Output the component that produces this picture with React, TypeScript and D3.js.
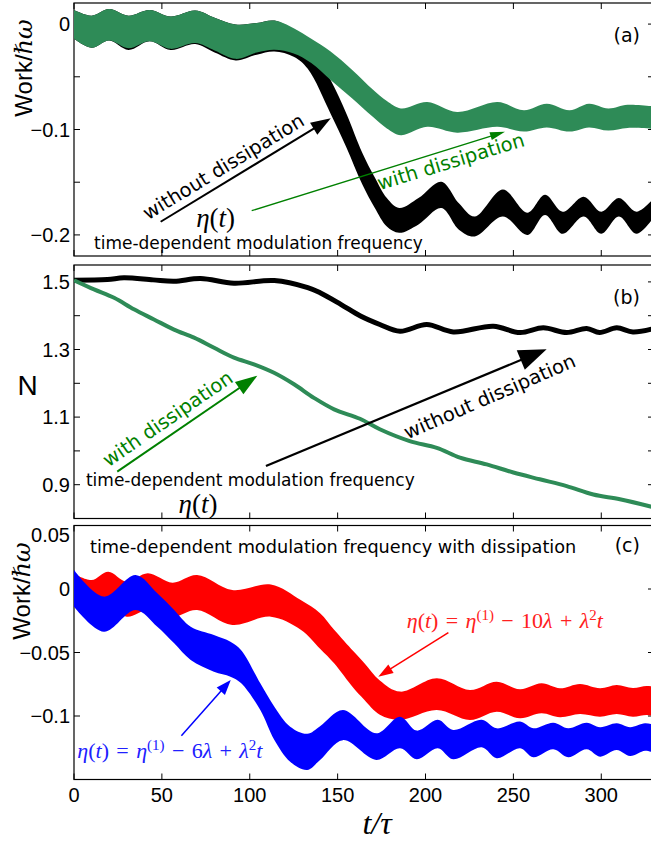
import React from "react";
import * as d3 from "d3";

// shared time axis (t / tau)
const tMax = 330;
const timeTicks = [0, 50, 100, 150, 200, 250, 300];

// (a) work without dissipation: black band, upper / lower envelope
const tWorkFree = [0, 10, 20, 31, 43, 55, 69, 80, 92, 104, 114, 125, 133, 146, 155, 164, 171, 178, 185, 196, 209, 219, 228, 244, 258, 268, 278, 290, 300, 310, 320, 330];
const workFreeHi = [0.0134, 0.008, 0.0143, 0.008, 0.0134, 0.0071, 0.0128, 0.006, -0.0005, 0.001, 0.0033, -0.006, -0.018, -0.053, -0.085, -0.122, -0.145, -0.165, -0.1745, -0.165, -0.1495, -0.17, -0.1826, -0.157, -0.179, -0.162, -0.178, -0.1637, -0.178, -0.165, -0.178, -0.165];
const workFreeLo = [-0.014, -0.0225, -0.0156, -0.0245, -0.0162, -0.0245, -0.019, -0.027, -0.0345, -0.029, -0.026, -0.031, -0.0424, -0.085, -0.117, -0.152, -0.174, -0.192, -0.198, -0.19, -0.1745, -0.195, -0.2015, -0.1826, -0.2, -0.181, -0.199, -0.1826, -0.199, -0.1826, -0.199, -0.183];

// (a) work with dissipation: green band
const tWorkDiss = [0, 10, 20, 31, 43, 55, 69, 80, 92, 104, 114, 125, 135, 146, 158, 170, 178, 186, 201, 218, 241, 256, 269, 282, 293, 304, 315, 330];
const workDissHi = [0.0134, 0.008, 0.0143, 0.008, 0.0134, 0.0071, 0.0128, 0.006, -0.0005, 0.001, 0.0033, -0.004, -0.014, -0.026, -0.043, -0.062, -0.073, -0.08, -0.074, -0.0834, -0.0739, -0.0818, -0.0755, -0.0818, -0.0755, -0.08, -0.0765, -0.078];
const workDissLo = [-0.014, -0.0225, -0.0156, -0.0229, -0.0162, -0.0235, -0.018, -0.025, -0.033, -0.027, -0.0244, -0.028, -0.037, -0.053, -0.07, -0.088, -0.099, -0.1054, -0.0975, -0.103, -0.0975, -0.102, -0.098, -0.102, -0.098, -0.101, -0.0985, -0.0995];

// (b) N without / with dissipation
const tNFree = [0, 19, 28.4, 45, 57, 72, 91, 114, 133, 140, 152, 163, 174, 185.5, 200.7, 215.8, 238.6, 253.8, 267, 280.3, 291.7, 299, 308.8, 318, 330];
const nFree = [1.505, 1.507, 1.512, 1.506, 1.502, 1.51, 1.496, 1.504, 1.483, 1.468, 1.433, 1.399, 1.374, 1.354, 1.374, 1.352, 1.369, 1.35, 1.364, 1.35, 1.362, 1.35, 1.364, 1.352, 1.362];
const tNDiss = [0, 11.4, 22.8, 34.1, 45.5, 56.9, 68.3, 79.7, 91, 102.4, 113.8, 125.2, 136.5, 148, 162.7, 174, 191, 206.4, 219.6, 234.8, 250, 265, 280.3, 295.5, 310.6, 330];
const nDiss = [1.505, 1.478, 1.453, 1.419, 1.389, 1.359, 1.335, 1.305, 1.276, 1.256, 1.231, 1.197, 1.157, 1.123, 1.095, 1.064, 1.029, 1.009, 0.98, 0.96, 0.936, 0.916, 0.896, 0.871, 0.857, 0.833];

// (c) work with dissipation, eta(t) = eta1 - 10 lambda + lambda^2 t (red band)
const tEta10 = [0, 10, 19.5, 30, 42, 56, 70, 90, 112, 129, 140, 148, 159, 165, 174, 185.5, 206.4, 225.3, 240.5, 253.8, 266, 276.5, 287.9, 299.3, 308.8, 318, 325.8, 330];
const eta10Hi = [0.012, 0.007, 0.0136, 0.0057, 0.0124, 0.005, 0.011, -0.0008, 0.0035, -0.0087, -0.019, -0.032, -0.049, -0.058, -0.072, -0.0808, -0.0703, -0.0795, -0.073, -0.079, -0.0743, -0.0782, -0.0748, -0.0782, -0.0756, -0.078, -0.0764, -0.077];
const eta10Lo = [-0.014, -0.02, -0.013, -0.0218, -0.0165, -0.022, -0.0165, -0.0283, -0.0218, -0.032, -0.047, -0.0585, -0.078, -0.087, -0.099, -0.1031, -0.0953, -0.1031, -0.0966, -0.1018, -0.0979, -0.101, -0.0984, -0.1005, -0.0984, -0.1005, -0.0992, -0.1];

// (c) eta(t) = eta1 - 6 lambda + lambda^2 t (blue band)
const tEta6 = [0, 17, 35, 47.4, 57, 66.4, 79.6, 89, 95, 106, 114, 123, 132.7, 140, 153, 172, 185.5, 195, 207, 215.7, 232, 240.5, 253.8, 261.3, 272.7, 281.2, 291.7, 299.3, 308.8, 316.4, 324.9, 330];
const eta6Hi = [0.015, -0.006, 0.011, -0.0034, -0.0165, -0.0297, -0.0362, -0.0415, -0.048, -0.0743, -0.0927, -0.1084, -0.114, -0.108, -0.0953, -0.1136, -0.1005, -0.1115, -0.103, -0.111, -0.103, -0.1097, -0.1044, -0.1097, -0.1053, -0.1097, -0.1053, -0.1089, -0.1058, -0.1089, -0.1058, -0.107];
const eta6Lo = [-0.0139, -0.0336, -0.0165, -0.0297, -0.0428, -0.0559, -0.0651, -0.069, -0.074, -0.0953, -0.1189, -0.136, -0.1425, -0.1346, -0.119, -0.1346, -0.1254, -0.134, -0.1254, -0.1341, -0.1247, -0.1333, -0.1254, -0.1325, -0.1262, -0.1325, -0.1262, -0.132, -0.1268, -0.1315, -0.1273, -0.129];

// y ticks
const workTicksA = [0, -0.05, -0.1, -0.15, -0.2];
const workLabelsA = [0, -0.1, -0.2];
const nTicks = [1.5, 1.4, 1.3, 1.2, 1.1, 1.0, 0.9];
const nLabels = [1.5, 1.3, 1.1, 0.9];
const workTicksC = [0.05, 0, -0.05, -0.1];

const W = 651;
const H = 843;
const LEFT = 74;
const RIGHT = 654;
const TICK = 6;
const GREEN = "#2e8b57";

const x = d3.scaleLinear().domain([0, tMax]).range([LEFT, RIGHT]);
const yA = d3.scaleLinear().domain([-0.22, 0.02]).range([256, 3]);
const yB = d3.scaleLinear().domain([0.8, 1.55]).range([518.5, 265]);
const yC = d3.scaleLinear().domain([-0.15, 0.05]).range([779.5, 525.5]);

const fmt = (v: number) => (v === 0 ? "0" : String(v).replace("-", "\u2212"));
const smooth = d3.curveCatmullRom.alpha(0.5);

const band = (t: number[], hi: number[], lo: number[], y: any) =>
  d3
    .area<number>()
    .x((i) => x(t[i]))
    .y0((i) => y(lo[i]))
    .y1((i) => y(hi[i]))
    .curve(smooth)(d3.range(t.length));

const path = (t: number[], v: number[], y: any) =>
  d3
    .line<number>()
    .x((i) => x(t[i]))
    .y((i) => y(v[i]))
    .curve(smooth)(d3.range(t.length));

const sans = "'Liberation Sans', Arial, sans-serif";
const dejavu = "'DejaVu Sans', sans-serif";
const serif = "'Liberation Serif', 'DejaVu Serif', serif";
const SP = "\u2004"; // math spacing around operators

function Axes({ y, ticks, labels, id }: any) {
  const [bottom, top] = y.range();
  return (
    <g>
      <defs>
        <clipPath id={id}>
          <rect x={LEFT} y={top} width={RIGHT - LEFT} height={bottom - top} />
        </clipPath>
      </defs>
      <rect x={LEFT} y={top} width={RIGHT - LEFT} height={bottom - top} fill="none" stroke="#000" strokeWidth={1.2} />
      {ticks.map((v: number) => (
        <g key={v} stroke="#000" strokeWidth={1}>
          <line x1={LEFT} x2={LEFT + TICK} y1={y(v)} y2={y(v)} />
          <line x1={RIGHT} x2={RIGHT - TICK} y1={y(v)} y2={y(v)} />
        </g>
      ))}
      {timeTicks.map((t) => (
        <g key={t} stroke="#000" strokeWidth={1}>
          <line x1={x(t)} x2={x(t)} y1={top} y2={top + TICK} />
          <line x1={x(t)} x2={x(t)} y1={bottom} y2={bottom - TICK} />
        </g>
      ))}
      {labels.map((v: number) => (
        <text
          key={v}
          x={LEFT - 4}
          y={Math.max(y(v), top + 9)}
          dy="0.36em"
          textAnchor="end"
          fontFamily={sans}
          fontSize={20}
        >
          {fmt(v)}
        </text>
      ))}
    </g>
  );
}

function Arrow({ y, from, to, color, width, head, headW }: any) {
  const x1 = x(from[0]);
  const y1 = y(from[1]);
  const x2 = x(to[0]);
  const y2 = y(to[1]);
  const L = Math.hypot(x2 - x1, y2 - y1);
  const ux = (x2 - x1) / L;
  const uy = (y2 - y1) / L;
  const bx = x2 - ux * head;
  const by = y2 - uy * head;
  const nx = -uy * (headW / 2);
  const ny = ux * (headW / 2);
  return (
    <g>
      <line x1={x1} y1={y1} x2={bx + ux * 2} y2={by + uy * 2} stroke={color} strokeWidth={width} />
      <polygon points={`${x2},${y2} ${bx + nx},${by + ny} ${bx - nx},${by - ny}`} fill={color} />
    </g>
  );
}

function Label({ y, at, angle = 0, anchor = "start", color = "#000", size = 19.5, family = dejavu, children }: any) {
  return (
    <text
      transform={`translate(${x(at[0])},${y(at[1])}) rotate(${angle})`}
      textAnchor={anchor}
      fill={color}
      fontFamily={family}
      fontSize={size}
    >
      {children}
    </text>
  );
}

function EtaT({ y, at, size = 27, color = "#000" }: any) {
  return (
    <text x={x(at[0])} y={y(at[1])} textAnchor="middle" fontFamily={serif} fontSize={size} fill={color}>
      <tspan fontStyle="italic">η</tspan>(<tspan fontStyle="italic">t</tspan>)
    </text>
  );
}

function EtaLaw({ y, at, k, color }: any) {
  return (
    <text x={x(at[0])} y={y(at[1])} fontFamily={serif} fontSize={22} fill={color} style={{ whiteSpace: "pre" }}>
      <tspan fontStyle="italic">η</tspan>
      {"("}
      <tspan fontStyle="italic">t</tspan>
      {`)${SP}=${SP}`}
      <tspan fontStyle="italic">η</tspan>
      <tspan dy={-8} fontSize={15}>(1)</tspan>
      <tspan dy={8}>{`${SP}\u2212${SP}${k}`}</tspan>
      <tspan fontStyle="italic">λ</tspan>
      {`${SP}+${SP}`}
      <tspan fontStyle="italic">λ</tspan>
      <tspan dy={-8} fontSize={15}>2</tspan>
      <tspan dy={8} fontStyle="italic">t</tspan>
    </text>
  );
}

function WorkLabel({ cx, cy }: any) {
  return (
    <text transform={`translate(${cx},${cy}) rotate(-90)`} textAnchor="middle" fontSize={24}>
      <tspan fontFamily={sans}>Work/</tspan>
      <tspan fontFamily="'DejaVu Serif', serif" fontStyle="italic">ℏω</tspan>
    </text>
  );
}

export default function App() {
  return (
    <svg
      width={W}
      height={H}
      viewBox={`0 0 ${W} ${H}`}
      style={{ position: "absolute", left: 0, top: 0, background: "#fff" }}
    >
      <rect width={W} height={H} fill="#fff" />

      {/* (a) work */}
      <Axes y={yA} ticks={workTicksA} labels={workLabelsA} id="clipA" />
      <g clipPath="url(#clipA)">
        <path d={band(tWorkFree, workFreeHi, workFreeLo, yA) || ""} fill="#000" />
        <path d={band(tWorkDiss, workDissHi, workDissLo, yA) || ""} fill={GREEN} />
      </g>
      <WorkLabel cx={32} cy={68} />
      <Arrow y={yA} from={[49.3, -0.1875]} to={[146.1, -0.0894]} color="#000" width={2} head={20} headW={14} />
      <Label y={yA} at={[87, -0.1407]} angle={-31.3} anchor="middle">without dissipation</Label>
      <Arrow y={yA} from={[101.1, -0.177]} to={[245.2, -0.1021]} color="green" width={1.3} head={15} headW={8} />
      <Label y={yA} at={[215.5, -0.1365]} angle={-17} anchor="middle" color="green">with dissipation</Label>
      <EtaT y={yA} at={[80.6, -0.1925]} />
      <Label y={yA} at={[11.4, -0.2134]} size={17}>time-dependent modulation frequency</Label>
      <Label y={yA} at={[322, -0.017]} anchor="end" size={19}>(a)</Label>

      {/* (b) N */}
      <Axes y={yB} ticks={nTicks} labels={nLabels} id="clipB" />
      <g clipPath="url(#clipB)" fill="none" strokeLinejoin="round">
        <path d={path(tNFree, nFree, yB) || ""} stroke="#000" strokeWidth={5} />
        <path d={path(tNDiss, nDiss, yB) || ""} stroke={GREEN} strokeWidth={4} />
      </g>
      <text x={27.5} y={395} textAnchor="middle" fontFamily={sans} fontSize={28}>N</text>
      <Arrow y={yB} from={[24.6, 0.9385]} to={[104.3, 1.2225]} color="green" width={2} head={22} headW={15} />
      <Label y={yB} at={[55.5, 1.079]} angle={-34.5} anchor="middle" color="green">with dissipation</Label>
      <Arrow y={yB} from={[109.2, 0.9553]} to={[268.9, 1.3006]} color="#000" width={2.2} head={28} headW={21} />
      <Label y={yB} at={[238, 1.1426]} angle={-23.5} anchor="middle" size={19.5}>without dissipation</Label>
      <Label y={yB} at={[6.8, 0.896]} size={17}>time-dependent modulation frequency</Label>
      <EtaT y={yB} at={[70.6, 0.8163]} />
      <Label y={yB} at={[322, 1.4346]} anchor="end" size={19}>(b)</Label>

      {/* (c) work, with dissipation, two modulation laws */}
      <Axes y={yC} ticks={workTicksC} labels={workTicksC} id="clipC" />
      <g clipPath="url(#clipC)">
        <path d={band(tEta10, eta10Hi, eta10Lo, yC) || ""} fill="#ff0000" />
        <path d={band(tEta6, eta6Hi, eta6Lo, yC) || ""} fill="#0000ff" />
      </g>
      <WorkLabel cx={30} cy={591} />
      <Label y={yC} at={[9.1, 0.0283]} size={17.7}>time-dependent modulation frequency with dissipation</Label>
      <Label y={yC} at={[322, 0.0291]} anchor="end" size={19}>(c)</Label>
      <EtaLaw y={yC} at={[189.3, -0.0307]} k={10} color="#ff2020" />
      <Arrow y={yC} from={[213, -0.0344]} to={[173.1, -0.069]} color="#ff0000" width={1.5} head={15} headW={10} />
      <EtaLaw y={yC} at={[1.9, -0.1331]} k={6} color="#2020ff" />
      <Arrow y={yC} from={[61.1, -0.1155]} to={[89.2, -0.0717]} color="#0000ff" width={1.5} head={15} headW={11} />

      {/* shared time axis labels */}
      {timeTicks.map((t) => (
        <text key={t} x={x(t)} y={802} textAnchor="middle" fontFamily={sans} fontSize={20}>
          {t}
        </text>
      ))}
      <text x={377} y={834} textAnchor="middle" fontFamily={serif} fontStyle="italic" fontSize={32}>
        t/τ
      </text>
    </svg>
  );
}
